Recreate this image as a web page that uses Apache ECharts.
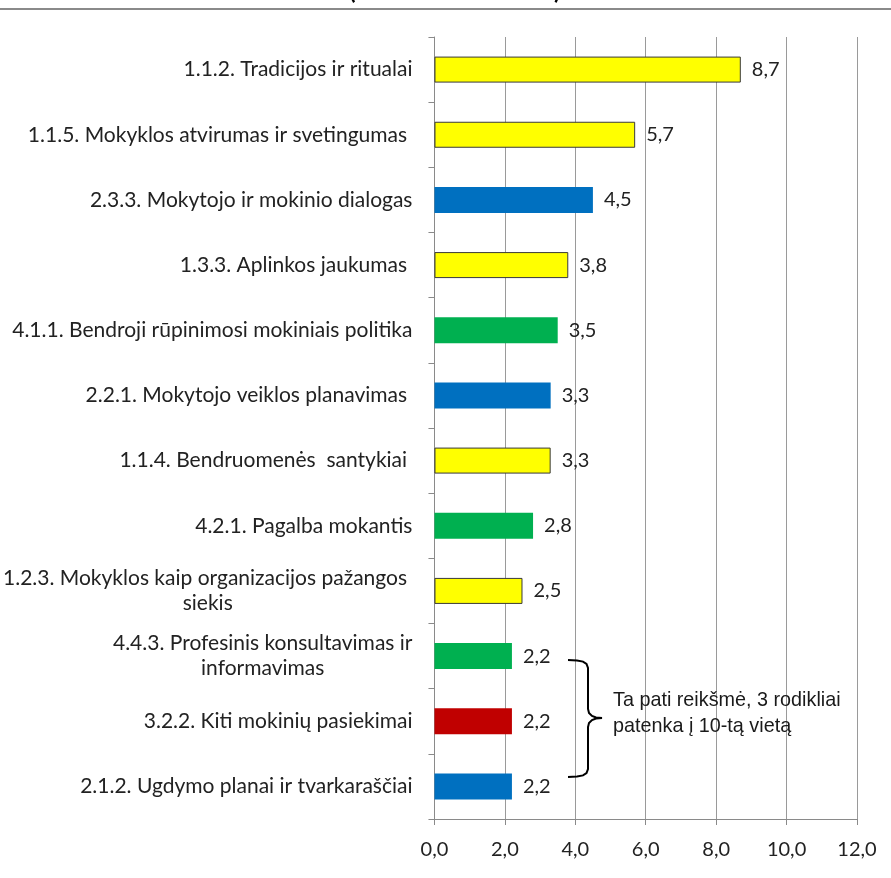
<!DOCTYPE html>
<html>
<head>
<meta charset="utf-8">
<script src="https://cdn.jsdelivr.net/npm/echarts@6/dist/echarts.min.js"></script>
<style>
html,body{margin:0;padding:0;background:#fff;}
#chart{width:891px;height:878px;}
</style>
</head>
<body>
<div id="chart"></div>
<script>
var categories = [
  "1.1.2. Tradicijos ir ritualai",
  "1.1.5. Mokyklos atvirumas ir svetingumas ",
  "2.3.3. Mokytojo ir mokinio dialogas",
  "1.3.3. Aplinkos jaukumas ",
  "4.1.1. Bendroji rūpinimosi mokiniais politika",
  "2.2.1. Mokytojo veiklos planavimas ",
  "1.1.4. Bendruomenės  santykiai ",
  "4.2.1. Pagalba mokantis",
  "1.2.3. Mokyklos kaip organizacijos pažangos \nsiekis",
  "4.4.3. Profesinis konsultavimas ir\ninformavimas",
  "3.2.2. Kiti mokinių pasiekimai",
  "2.1.2. Ugdymo planai ir tvarkaraščiai"
];
var values = [8.7, 5.7, 4.5, 3.8, 3.5, 3.3, 3.3, 2.8, 2.5, 2.2, 2.2, 2.2];
var barColors = ["#FFFF00","#FFFF00","#0070C0","#FFFF00","#00B050","#0070C0","#FFFF00","#00B050","#FFFF00","#00B050","#C00000","#0070C0"];
var xTicks = [0, 2, 4, 6, 8, 10, 12];
var noteLines = ["Ta pati reikšmė, 3 rodikliai", "patenka į 10-tą vietą"];

var FONT = "Lato, 'Noto Sans', sans-serif";
var chart = echarts.init(document.getElementById('chart'), null, {renderer: 'canvas'});

var data = values.map(function (v, i) {
  var isYellow = barColors[i] === "#FFFF00";
  return {
    value: v,
    itemStyle: {
      color: barColors[i],
      borderColor: isYellow ? "#3a3a3a" : barColors[i],
      borderWidth: isYellow ? 1 : 0
    }
  };
});

var bracePts = [
  [568,660],[577,660.4],[583,661.6],[586.5,664],[588,668],
  [588,709],[589,713],[592,716],[596,717.5],[602,718],
  [596,718.5],[592,720],[589,723],[588,727],
  [588,769],[586.5,773],[583,775.4],[577,776.6],[568,777]
];

var option = {
  animation: false,
  backgroundColor: '#ffffff',
  title: {
    text: '(                                  )',
    left: 344,
    top: -26,
    textStyle: {fontSize: 24, fontWeight: 'bold', color: '#000', fontFamily: FONT}
  },
  grid: {left: 434, right: 34, top: 37, bottom: 59, containLabel: false},
  xAxis: {
    type: 'value',
    min: xTicks[0],
    max: xTicks[xTicks.length - 1],
    interval: xTicks[1] - xTicks[0],
    axisLine: {show: true, lineStyle: {color: '#8a8a8a', width: 1}},
    axisTick: {show: true, inside: false, length: 6, lineStyle: {color: '#8a8a8a'}},
    splitLine: {show: true, lineStyle: {color: '#9a9a9a', width: 1}},
    axisLabel: {
      margin: 21,
      fontSize: 20,
      fontFamily: FONT,
      color: '#222',
      formatter: function (v) { return v.toFixed(1).replace('.', ','); }
    }
  },
  yAxis: {
    type: 'category',
    inverse: true,
    data: categories,
    axisLine: {show: true, lineStyle: {color: '#8a8a8a', width: 1}},
    axisTick: {show: true, inside: false, length: 6, alignWithLabel: false, lineStyle: {color: '#8a8a8a'}},
    splitLine: {show: false},
    axisLabel: {
      margin: 22,
      fontSize: 21,
      fontFamily: FONT,
      color: '#222',
      lineHeight: 25,
      interval: 0,
      formatter: function (v) {
        return v.split('\n').map(function (s) { return '{c|' + s + '}'; }).join('\n');
      },
      rich: {
        c: {align: 'center', fontSize: 21, fontFamily: FONT, color: '#222', lineHeight: 25}
      }
    }
  },
  series: [{
    type: 'bar',
    data: data,
    barWidth: 26,
    label: {
      show: true,
      position: 'right',
      distance: 11,
      fontSize: 20,
      fontFamily: FONT,
      color: '#222',
      formatter: function (p) { return p.value.toFixed(1).replace('.', ','); }
    }
  }],
  graphic: [
    {
      type: 'line',
      shape: {x1: 0, y1: 9, x2: 891, y2: 9},
      style: {stroke: '#8a8a8a', lineWidth: 2},
      z: 10
    },
    {
      type: 'polyline',
      shape: {points: bracePts},
      style: {stroke: '#000', lineWidth: 2, fill: null},
      z: 10
    },
    {
      type: 'text',
      left: 613,
      top: 688,
      style: {
        text: noteLines.join('\n'),
        font: "19.8px 'Liberation Sans', Arial, sans-serif",
        fill: '#1a1a1a',
        lineHeight: 26
      },
      z: 10
    }
  ]
};
chart.setOption(option);
</script>
</body>
</html>
